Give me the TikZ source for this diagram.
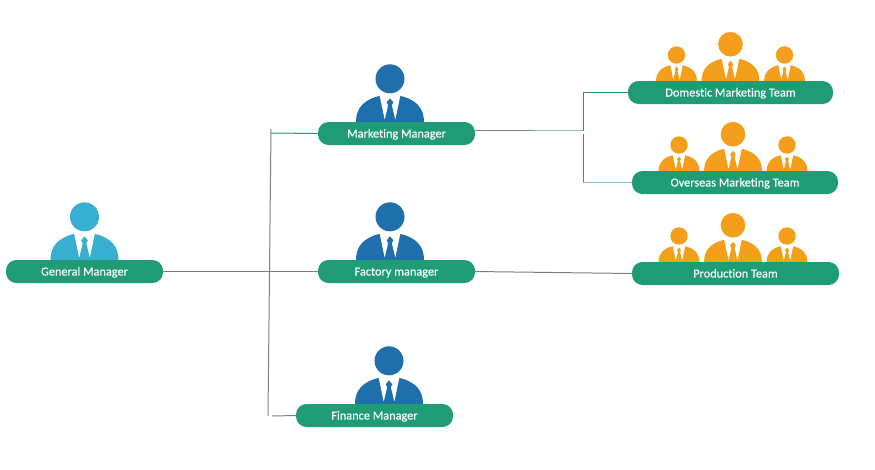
\documentclass[tikz,border=0pt]{standalone}
\usepackage{fontspec}
\setmainfont[Ligatures=NoCommon,FakeBold=0.2]{Carlito}
\usetikzlibrary{calc}
\definecolor{pillgreen}{HTML}{1F9B76}
\definecolor{managerblue}{HTML}{1E6FAB}
\definecolor{generalcyan}{HTML}{36AFD0}
\definecolor{teamorange}{HTML}{F39F1B}
\definecolor{linegrey}{HTML}{7F7F7F}
\definecolor{lineteal}{HTML}{2F9079}
\definecolor{linelight}{HTML}{84C9B5}

\begin{document}
\begin{tikzpicture}[
  x=1pt,
  y=-1pt,
  pill/.style={
    fill=pillgreen,
    rounded corners=10.5pt,
    text=white,
    font=\fontsize{12.3}{14}\selectfont,
    inner sep=0pt,
    minimum height=23pt,
    text height=9pt,
    text depth=1pt,
    align=center
  },
  person/.pic={
    \fill (0,-43) circle (14.5);
    \fill (-34,0) .. controls (-34,-13) and (-27,-22) .. (-10,-26)
      -- (10,-26) .. controls (27,-22) and (34,-13) .. (34,0) -- cycle;
    \fill[white] (-10.5,-27) -- (10.5,-27) -- (5.5,-3) -- (-5.5,-3) -- cycle;
    \fill (0,-23.5) -- (3.3,-19.5) -- (1.8,-16.5) -- (5,-3) -- (5,-1) -- (-5,-1) -- (-5,-3)
      -- (-1.8,-16.5) -- (-3.3,-19.5) -- cycle;
  },
  team/.pic={
    \pic[scale=0.6] at (-54,0) {person};
    \pic[scale=0.85] at (0,0) {person};
    \pic[scale=0.6] at (54,0) {person};
  },
  spine/.style={line width=1pt, linegrey},
  branch/.style={line width=1pt, lineteal},
  fade/.style={line width=1pt, linelight}
]
  \useasboundingbox (0,0) rectangle (875,469);

  % --- PEOPLE ---
  \node[pill, minimum width=157pt] (general) at (84.5,271.5) {General Manager};
  \node[pill, minimum width=157pt] (marketing) at (396.5,133.5) {Marketing Manager};
  \node[pill, minimum width=157pt] (factory) at (396.5,271.5) {Factory manager};
  \node[pill, minimum width=157pt] (finance) at (374.5,415.5) {Finance Manager};

  \pic[generalcyan] at (general.north) {person};
  \pic[managerblue] at ($(marketing.north)+(-6.5,0)$) {person};
  \pic[managerblue] at ($(factory.north)+(-6.5,0)$) {person};
  \pic[managerblue] at ($(finance.north)+(14.5,0)$) {person};

  % --- TEAMS ---
  \node[pill, minimum width=205pt] (domestic) at (730.5,92.5) {Domestic Marketing Team};
  \node[pill, minimum width=206pt] (overseas) at (735,182.5) {Overseas Marketing Team};
  \node[pill, minimum width=207pt] (production) at (735.5,273.5) {Production Team};

  \pic[teamorange] at (domestic.north) {team};
  \pic[teamorange] at ($(overseas.north)+(-2,0)$) {team};
  \pic[teamorange] at ($(production.north)+(-2.5,0)$) {team};

  % --- CONNECTORS ---
  \coordinate (spinetop) at (271,129);
  \coordinate (spinebot) at (268,416);
  \coordinate (spinemkt) at (271,133);
  \coordinate (spinefin) at (272,416);
  \coordinate (mktout) at (475,130.5);
  \coordinate (mktmid) at (534,130.5);
  \coordinate (fork) at (583,130.5);
  \coordinate (forkdom) at (583,92.5);
  \coordinate (forkover) at (583,134);
  \coordinate (forkoverbot) at (583,182.5);

  \draw[spine] (spinetop) -- (spinebot);
  \draw[spine] (general.east) -- (factory.west);
  \draw[spine] (spinefin) -- (finance.west);
  \draw[branch] (spinemkt) -- (marketing.west);
  \draw[spine] (mktout) -- (mktmid);
  \draw[fade] (mktmid) -- (fork);
  \draw[branch] (fork) -- (forkdom) -- (domestic.west);
  \draw[branch] (forkover) -- (forkoverbot);
  \draw[fade] (forkoverbot) -- (overseas.west);
  \draw[spine] (factory.east) -- (production.west);
\end{tikzpicture}
\end{document}
